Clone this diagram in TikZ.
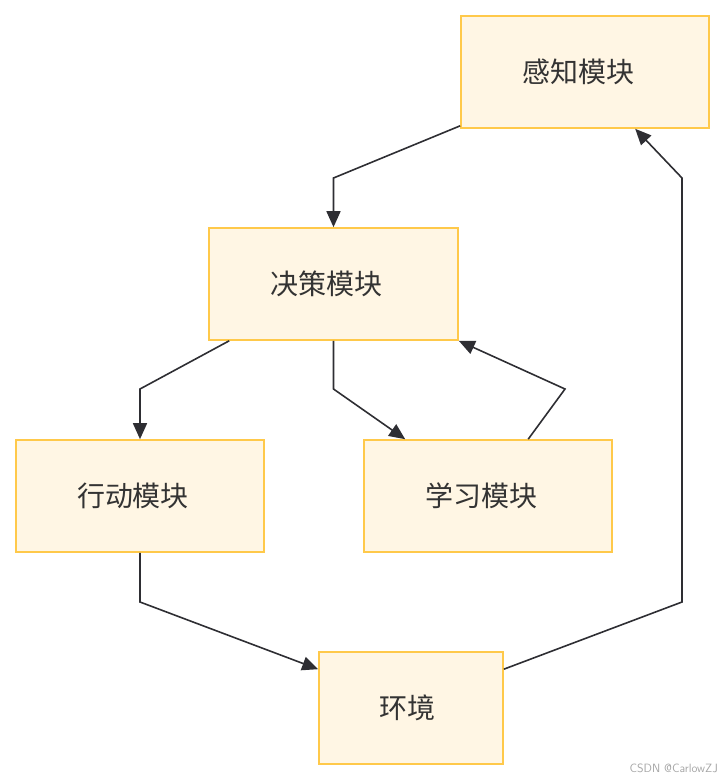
\documentclass[tikz,border=0pt]{standalone}
\usepackage{fontspec}
\newfontfamily\cjk{Noto Sans CJK SC}
\usetikzlibrary{arrows.meta,calc}
\definecolor{boxfill}{HTML}{FFF6E4}
\definecolor{boxline}{HTML}{FFC94A}
\definecolor{ink}{HTML}{333333}
\definecolor{edge}{HTML}{2E2E33}
\tikzset{
  modbox/.style={draw=boxline, fill=boxfill, line width=1.6pt, minimum height=112pt,
    inner sep=0pt, font=\cjk\fontsize{28}{32}\selectfont, text=ink},
  arr/.style={draw=edge, line width=1.6pt, -{Triangle[length=16pt,width=14pt]}},
}
\begin{document}
\begin{tikzpicture}[x=1pt,y=-1pt]
\useasboundingbox (0,0) rectangle (726,780);
\node[modbox, minimum width=248pt] (perc) at (585,72) {感知模块\hspace*{14pt}};
\node[modbox, minimum width=249pt] (dec) at (333.5,284) {决策模块\hspace*{14pt}};
\node[modbox, minimum width=248pt] (act) at (140,496) {行动模块\hspace*{14pt}};
\node[modbox, minimum width=248pt] (learn) at (488,496) {学习模块\hspace*{14pt}};
\node[modbox, minimum width=184pt] (env) at (411,708) {环境\hspace*{8pt}};
\draw[arr] ($(perc.south west)+(0,-3)$) -- (333.5,178) -- (dec.north);
\draw[arr] ($(dec.south west)+(21,0)$) -- (140,389) -- (act.north);
\draw[arr] (dec.south) -- (333.5,389) -- ($(learn.north west)+(42,0)$);
\draw[arr] ($(learn.north west)+(165,0)$) -- (565,389) -- (dec.south east);
\draw[arr] (act.south) -- (140,602) -- ($(env.north west)+(0,18)$);
\draw[arr] ($(env.north east)+(0,18)$) -- (682,602) -- (682,178) -- ($(perc.south west)+(175,0)$);
\node[anchor=east, text=black!35, font=\fontsize{12}{14}\selectfont\sffamily, inner sep=0pt] (wm) at (718,768) {CSDN @CarlowZJ};
\end{tikzpicture}
\end{document}
